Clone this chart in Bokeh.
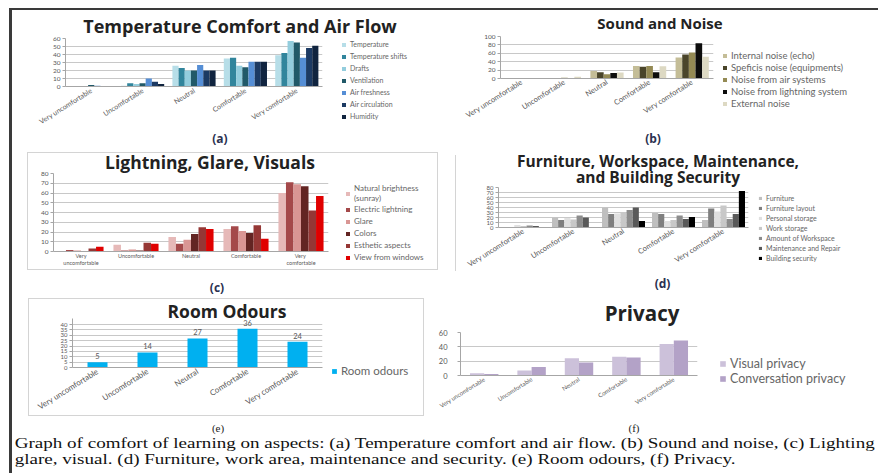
import math
from bokeh.plotting import figure
from bokeh.models import (FactorRange, Range1d, Legend, LegendItem, LabelSet, CategoricalAxis,
                          Div, Spacer, FixedTicker, ColumnDataSource)
from bokeh.layouts import row, column
from bokeh.transform import dodge
from bokeh.embed import file_html
from bokeh.resources import INLINE
from bokeh.core.properties import value

# ---------------- data ----------------
levels = ["Very uncomfortable", "Uncomfortable", "Neutral", "Comfortable", "Very comfortable"]

# (a) Temperature comfort and air flow
temp_names = ["Temperature", "Temperature shifts", "Drafts", "Ventilation",
              "Air freshness", "Air circulation", "Humidity"]
temperature = [0, 1, 26, 35, 39]
temperature_shifts = [0, 4, 23, 36, 42]
drafts = [0, 3, 20, 26, 57]
ventilation = [2, 4, 20, 24, 55]
air_freshness = [1, 10, 27, 31, 36]
air_circulation = [0, 6, 20, 31, 48]
humidity = [0, 3, 20, 31, 51]
temp_colors = ["#b7dee8", "#31859c", "#93cddd", "#215968", "#558ed5", "#1c3a63", "#10243f"]

# (b) Sound and noise
noise_names = ["Internal noise (echo)", "Speficis noise (equipments)", "Noise from air systems",
               "Noise from lightning system", "External noise"]
internal_noise = [1, 0, 18, 30, 50]
specific_noise = [0, 1, 15, 28, 57]
air_system_noise = [0, 2, 10, 30, 62]
lighting_noise = [0, 1, 13, 15, 84]
external_noise = [0, 4, 14, 29, 52]
noise_colors = ["#c4bd97", "#4a452a", "#948a54", "#0d0d0d", "#ddd9c3"]

# (c) Lightning, glare, visuals
light_names = ["Natural brightness\n(sunray)", "Electric lightning", "Glare", "Colors",
               "Esthetic aspects", "View from windows"]
natural_brightness = [0.5, 7, 15, 23, 60]
electric_lightning = [1.5, 1, 8, 26, 71]
glare = [1, 2, 12, 21, 69]
colors_ = [0.5, 1, 18, 19, 67]
esthetic = [3, 9, 25, 27, 42]
view_windows = [5, 8, 23, 13, 57]
light_colors = ["#e6b9b8", "#a4494a", "#d99694", "#632523", "#953735", "#e00000"]
# two-line category labels of chart (c)
light_line1 = ["Very", "Uncomfortable", "Neutral", "Comfortable", "Very "]
light_line2 = ["uncomfortable", " ", "  ", "   ", "comfortable"]

# (d) Furniture, workspace, maintenance, security
furn_names = ["Furniture", "Furniture layout", "Personal storage", "Work storage",
              "Amount of Workspace", "Maintenance and Repair", "Building security"]
furniture = [1, 20, 40, 29, 15]
furniture_layout = [0, 15, 27, 27, 38]
personal_storage = [5, 19, 28, 13, 32]
work_storage = [3, 16, 29, 15, 44]
amount_workspace = [4, 24, 35, 24, 17]
maintenance = [3, 20, 40, 17, 27]
building_security = [1, 0, 13, 21, 73]
furn_colors = ["#bfbfbf", "#7f7f7f", "#e0e0e0", "#c8c8c8", "#8c8c8c", "#595959", "#000000"]

# (e) Room odours
odour_names = ["Room odours"]
room_odours = [5, 14, 27, 36, 24]
odour_colors = ["#00b0f0"]

# (f) Privacy
privacy_names = ["Visual privacy", "Conversation privacy"]
visual_privacy = [3, 7, 24, 26, 44]
conversation_privacy = [2, 12, 18, 25, 49]
privacy_colors = ["#ccc1da", "#b3a2c7"]

titles = {"a": "Temperature Comfort and Air Flow", "b": "Sound and Noise",
          "c": "Lightning, Glare, Visuals",
          "d": "Furniture, Workspace, Maintenance,<br>and Building Security",
          "e": "Room Odours", "f": "Privacy"}
caption_1 = "Graph of comfort of learning on aspects: (a) Temperature comfort and air flow. (b) Sound and noise, (c) Lighting"
caption_2 = "glare, visual. (d) Furniture, work area, maintenance and security. (e) Room odours, (f) Privacy."

FONT = "Lato"
TFONT = "Open Sans"
LBL = "#595959"
LEGC = "#666666"
BOXC = "#d4d4d4"
CAPC = "#2b3150"
ANGLE = 32


def make_fig(w, h, fl, ft, fw, fh, ymax, ticks, factors=levels, angle=ANGLE,
             tick_size="6.5px", xsize="7px", ystand=2):
    p = figure(width=w, height=h, x_range=FactorRange(*factors), y_range=Range1d(0, ymax),
               output_backend="svg", toolbar_location=None,
               min_border_left=fl, min_border_right=w - fl - fw,
               min_border_top=ft, min_border_bottom=h - ft - fh, margin=0,
               border_fill_color=None, background_fill_color=None)
    p.title.visible = False
    p.outline_line_color = None
    p.xgrid.grid_line_color = None
    p.ygrid.grid_line_color = "#c8c8c8"
    p.yaxis.ticker = FixedTicker(ticks=ticks)
    for ax in (p.xaxis[0], p.yaxis[0]):
        ax.axis_line_color = "#a6a6a6"
        ax.major_tick_line_color = "#a6a6a6"
        ax.minor_tick_line_color = None
        ax.major_tick_in = 0
        ax.major_tick_out = 3
        ax.major_label_text_font = FONT
        ax.major_label_text_font_size = tick_size
        ax.major_label_text_color = LBL
        ax.major_label_standoff = 2
    p.yaxis.major_label_standoff = ystand
    p.xaxis.major_tick_line_color = None
    p.xaxis.major_tick_out = 0
    p.xaxis.major_label_text_font_size = xsize
    p.xaxis.major_label_standoff = 3
    if angle:
        p.xaxis.major_label_orientation = math.radians(angle)
    else:
        p.xaxis.major_label_orientation = "horizontal"
    return p


def add_bars(p, series, colors, group, factors=levels):
    n = len(series)
    bw = group / n
    for i, (vals, col) in enumerate(zip(series, colors)):
        src = ColumnDataSource(dict(level=factors, v=vals))
        off = -group / 2 + bw * (i + 0.5)
        p.vbar(x=dodge("level", off, range=p.x_range), top="v", width=bw,
               source=src, fill_color=col, line_color=None)


def legend_fig(w, h, names, colors, pitch, size, glyph=5):
    lf = figure(width=w, height=h, x_range=Range1d(0, 1), y_range=Range1d(0, 1),
                output_backend="svg", toolbar_location=None, min_border=0, margin=0,
                x_axis_location=None, y_axis_location=None,
                border_fill_color=None, background_fill_color=None)
    lf.title.visible = False
    lf.outline_line_color = None
    lf.grid.visible = False
    items = []
    for nm, col in zip(names, colors):
        # swatch renderer: lies below the visible range, only its legend entry shows
        r = lf.vbar(x=[0.5], top=[-1], bottom=[-2], width=1, fill_color=col, line_color=None)
        items.append(LegendItem(label=nm, renderers=[r]))
    lg = Legend(items=items, location="top_left", orientation="vertical",
                glyph_width=glyph, glyph_height=glyph, label_height=pitch, spacing=0,
                padding=0, margin=0, label_standoff=4,
                label_text_font=FONT, label_text_font_size=size, label_text_color=LEGC,
                border_line_color=None, background_fill_alpha=0)
    lf.add_layout(lg, "center")
    return lf


def text_div(text, w, h, cx, cy, size, lh, bold=False, font=TFONT, color="#222222"):
    # centre the text horizontally at cx and the first line vertically at cy
    if cx >= w / 2:
        pl, pr = 2 * cx - w, 0
    else:
        pl, pr = 0, w - 2 * cx
    pt = cy - lh / 2
    inner = (f'<div style="width:{w}px;box-sizing:border-box;'
             f'padding:{pt}px {pr}px 0px {pl}px;text-align:center;'
             f'font-family:\'{font}\';font-size:{size}px;line-height:{lh}px;'
             f'font-weight:{"bold" if bold else "normal"};color:{color};white-space:nowrap">'
             f'{text}</div>')
    return Div(text=inner, width=w, height=h, margin=0)


def box_styles(lines):
    imgs, pos, sizes = [], [], []
    for (x, y, w, h) in lines:
        imgs.append(f"linear-gradient({BOXC},{BOXC})")
        pos.append(f"{x}px {y}px")
        sizes.append(f"{w}px {h}px")
    return {"background-image": ", ".join(imgs), "background-position": ", ".join(pos),
            "background-size": ", ".join(sizes), "background-repeat": "no-repeat"}


def rect_lines(x0, y0, x1, y1):
    return [(x0, y0, x1 - x0 + 1, 1), (x0, y1, x1 - x0 + 1, 1),
            (x0, y0, 1, y1 - y0 + 1), (x1, y0, 1, y1 - y0 + 1)]


def mid_row(chart, lw, ltop, lfig):
    return row(chart, column(Spacer(width=lw, height=ltop, margin=0), lfig, margin=0), margin=0)


# ---------- (a) ----------  page x 12..440, y 10..148
fa = make_fig(329, 98, 53, 5, 257, 48, 60, [0, 10, 20, 30, 40, 50, 60], xsize="7px")
add_bars(fa, [temperature, temperature_shifts, drafts, ventilation,
              air_freshness, air_circulation, humidity], temp_colors, 0.84)
la = legend_fig(99, 93, temp_names, temp_colors, 12, "7px")
pa = column(text_div(titles["a"], 428, 23, 240 - 12, 16, 18, 14, bold=True),
            mid_row(fa, 99, 5, la),
            text_div("(a)", 428, 17, 208, 8, 12, 14, bold=True, color=CAPC), margin=0)

# ---------- (b) ----------  page x 440..878, y 10..148
fb = make_fig(282, 101, 60, 6, 213, 42, 100, [0, 20, 40, 60, 80, 100], xsize="7.5px")
add_bars(fb, [internal_noise, specific_noise, air_system_noise,
              lighting_noise, external_noise], noise_colors, 0.78)
lb = legend_fig(156, 82, noise_names, noise_colors, 12, "9.5px")
pb = column(text_div(titles["b"], 438, 20, 220, 13, 15, 14, bold=True),
            mid_row(fb, 156, 19, lb),
            text_div("(b)", 438, 17, 213, 6, 12, 12, bold=True, color=CAPC), margin=0)

# ---------- (c) ----------  page x 12..447, y 148..292
fc = make_fig(333, 110, 41, 3, 275, 78, 80, [0, 10, 20, 30, 40, 50, 60, 70, 80],
              factors=light_line1, angle=0, tick_size="6.5px", xsize="5.5px")
fc.xaxis[0].major_label_standoff = 1
fc.extra_x_ranges = {"line2": FactorRange(*light_line2)}
ax2 = CategoricalAxis(x_range_name="line2", axis_line_color=None,
                      major_tick_line_color=None, minor_tick_line_color=None,
                      major_tick_in=0, major_tick_out=0,
                      major_label_standoff=-2, major_label_text_font=FONT,
                      major_label_text_font_size="5.5px", major_label_text_color=LBL)
fc.add_layout(ax2, "below")
add_bars(fc, [natural_brightness, electric_lightning, glare, colors_,
              esthetic, view_windows], light_colors, 0.82, factors=light_line1)
lc = legend_fig(102, 97, light_names, light_colors, 12, "8px")
pc = column(text_div(titles["c"], 435, 22, 198, 14, 17.5, 14, bold=True),
            mid_row(fc, 102, 13, lc),
            text_div("(c)", 435, 12, 205, 7, 12, 12, bold=True, color=CAPC), margin=0,
            styles=box_styles(rect_lines(15, 4, 425, 121)))

# ---------- (d) ----------  page x 447..878, y 148..292
fd = make_fig(311, 94, 51, 5, 250, 40, 80, [0, 10, 20, 30, 40, 50, 60, 70, 80],
              tick_size="6px", xsize="7.5px")
add_bars(fd, [furniture, furniture_layout, personal_storage, work_storage,
              amount_workspace, maintenance, building_security], furn_colors, 0.86)
ld = legend_fig(120, 83, furn_names, furn_colors, 10, "7px", glyph=4)
pd_ = column(text_div(titles["d"], 431, 34, 211, 12.5, 15.5, 16, bold=True),
             mid_row(fd, 120, 11, ld),
             text_div("(d)", 431, 16, 211, 5, 12, 12, bold=True, color=CAPC), margin=0,
             styles=box_styles([(8, 7, 1, 116)]))

# ---------- (e) ----------  page x 12..430, y 292..436
e_top = 40 * 49 / 43
fe = make_fig(319, 101, 60, 1, 250, 49, e_top, [0, 5, 10, 15, 20, 25, 30, 35, 40],
              tick_size="6px", xsize="8px")
add_bars(fe, [room_odours], odour_colors, 0.4)
src_e = ColumnDataSource(dict(level=levels, v=room_odours, t=[str(v) for v in room_odours]))
fe.add_layout(LabelSet(x="level", y="v", text="t", source=src_e, y_offset=3,
                       text_font=value(FONT), text_font_size="7.5px", text_color=LBL,
                       text_align="center", text_baseline="bottom"))
le = legend_fig(99, 54, odour_names, odour_colors, 12, "11.5px", glyph=6)
pe = column(text_div(titles["e"], 418, 25, 215, 19, 17.5, 13, bold=True),
            mid_row(fe, 99, 47, le),
            text_div("(e)", 418, 18, 206, 10, 11, 12, font="Liberation Serif"), margin=0,
            styles=box_styles(rect_lines(16, 6, 411, 123)))

# ---------- (f) ----------  page x 430..878, y 292..436
ff = make_fig(289, 91, 30, 8, 237, 45, 60, [0, 20, 40, 60], tick_size="7.5px", xsize="6px",
              ystand=10)
add_bars(ff, [visual_privacy, conversation_privacy], privacy_colors, 0.6)
lf_ = legend_fig(159, 59, privacy_names, privacy_colors, 15, "12.5px", glyph=7)
pf = column(text_div(titles["f"], 448, 32, 212, 21, 20.5, 20, bold=True),
            mid_row(ff, 159, 32, lf_),
            text_div("(f)", 448, 21, 204, 13, 11, 12, font="Liberation Serif"), margin=0)

# ---------- page ----------
caption = Div(text=('<div style="transform:scaleX(1.36);transform-origin:0 0;'
                    'font-family:\'Liberation Serif\';font-size:14px;line-height:16px;'
                    'color:#111111;white-space:nowrap;padding-left:2px">'
                    + caption_1 + "<br>" + caption_2 + "</div>"),
              width=866, height=37, margin=0)

dark = "#3a3a3a"
content = column(
    Div(text="", width=866, height=2, margin=0, styles={"background-color": dark}),
    row(pa, pb, margin=0),
    row(pc, pd_, margin=0),
    row(pe, pf, margin=0),
    caption,
    margin=0,
)
page = column(
    Div(text="", width=878, height=8, margin=0),
    row(Div(text="", width=9, height=465, margin=0),
        Div(text="", width=3, height=465, margin=0, styles={"background-color": dark}),
        content, margin=0),
    margin=0,
)

open("out.html", "w").write(file_html(page, INLINE))
